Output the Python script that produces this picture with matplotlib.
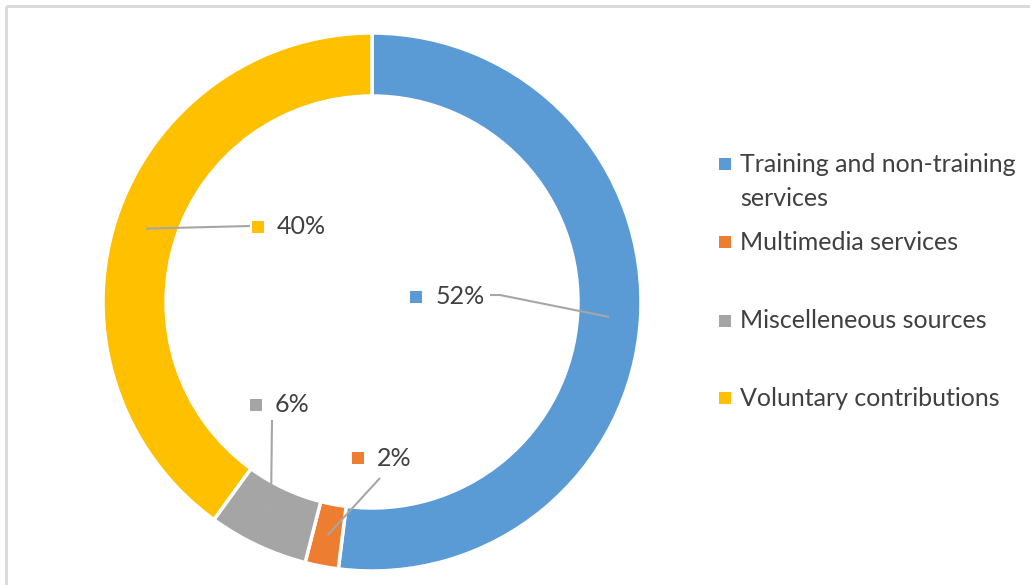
import matplotlib
matplotlib.use("Agg")
import matplotlib.pyplot as plt
import numpy as np

categories = ["Training and non-training\nservices", "Multimedia services",
              "Miscelleneous sources", "Voluntary contributions"]
values = [52, 2, 6, 40]
labels = ["52%", "2%", "6%", "40%"]
colors = ["#5B9BD5", "#ED7D31", "#A5A5A5", "#FFC000"]

plt.rcParams['font.family'] = ['Lato', 'DejaVu Sans']

W, H = 1030, 585
fig = plt.figure(figsize=(W / 100, H / 100), dpi=100)
ax = fig.add_axes([0, 0, 1, 1])

cx, cy, R, ring = 372, H - 302, 269, 63
wedges, _ = ax.pie(values, colors=colors, startangle=90, counterclock=False,
                   radius=R, center=(cx, cy), frame=True,
                   wedgeprops=dict(width=ring, edgecolor='white', linewidth=2.5))
ax.set_xlim(0, W)
ax.set_ylim(0, H)
ax.set_aspect('auto')
ax.axis('off')

# label positions (pixel coords from top): marker x, text x, y
label_pos = [(416, 436, 297), (358, 377, 458), (256, 275, 405), (258, 277, 227)]
# leader line start points (pixel coords from top)
line_start = [[(490, 295), (500, 295)], [(380, 478)], [(272, 420)], [(250, 226)]]

tc = "#404040"
lc = "#A6A6A6"
fs = 18
for w, val, lab, col, (mx, tx, ty), ls in zip(wedges, values, labels, colors, label_pos, line_start):
    ang = np.deg2rad((w.theta1 + w.theta2) / 2)
    rm = R - ring / 2
    ex, ey = cx + rm * np.cos(ang), cy + rm * np.sin(ang)
    xs = [p[0] for p in ls] + [ex]
    ys = [H - p[1] for p in ls] + [ey]
    ax.plot(xs, ys, color=lc, lw=1.5, solid_capstyle='butt')
    ax.scatter([mx], [H - ty], marker='s', s=80, color=col, linewidths=0, zorder=5)
    ax.text(tx, H - ty, lab, fontsize=fs, color=tc, va='center', ha='left')

# legend
leg_rows = [(164, 198), (242,), (321,), (398,)]
for cat, col, rows in zip(categories, colors, leg_rows):
    ax.scatter([725], [H - rows[0]], marker='s', s=80, color=col, linewidths=0, zorder=5)
    parts = cat.split("\n")
    for part, ry in zip(parts, rows):
        ax.text(740, H - ry, part, fontsize=fs, color=tc, va='center', ha='left')

# frame
ax.plot([6, 6], [0, H - 6], color='#D9D9D9', lw=2, solid_capstyle='butt')
ax.plot([6, W], [H - 6, H - 6], color='#D9D9D9', lw=2, solid_capstyle='butt')

fig.savefig("out.png", dpi=100)
